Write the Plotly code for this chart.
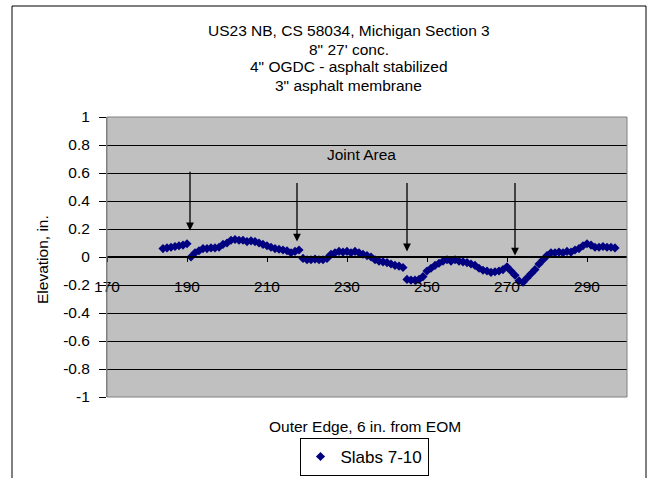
import plotly.graph_objects as go

# ---- data ----
station = list(range(184, 298))
elevation = [
    0.06, 0.065, 0.07, 0.075, 0.08, 0.085, 0.095,            # 184-190
    0.0, 0.03, 0.045, 0.06, 0.06, 0.065, 0.065, 0.07,         # 191-198
    0.09, 0.10, 0.12, 0.125, 0.12, 0.12, 0.11, 0.115, 0.11,   # 199-207
    0.10, 0.09, 0.08, 0.07, 0.06, 0.055, 0.05, 0.045, 0.03,   # 208-216
    0.04, 0.05,                                               # 217-218
    -0.01, -0.02, -0.02, -0.015, -0.02, -0.02, -0.01,         # 219-225
    0.02, 0.03, 0.04, 0.035, 0.04, 0.03, 0.04, 0.03, 0.02,    # 226-234
    0.01, 0.0, -0.02, -0.03, -0.035, -0.04, -0.05, -0.06,     # 235-242
    -0.065, -0.075,                                           # 243-244
    -0.16, -0.165, -0.165, -0.16, -0.14,                      # 245-249
    -0.10, -0.08, -0.06, -0.045, -0.03, -0.02, -0.03, -0.02,  # 250-257
    -0.03, -0.035, -0.04, -0.05, -0.06,                       # 258-262
    -0.08, -0.095, -0.10, -0.11, -0.105, -0.10, -0.09,        # 263-269
    -0.07, -0.10, -0.13, -0.17, -0.18, -0.15, -0.12,          # 270-276
    -0.09, -0.05, -0.02, 0.01,                                # 277-280
    0.03, 0.03, 0.035, 0.03, 0.04, 0.035,                     # 281-286
    0.05, 0.06, 0.08, 0.095,                                  # 287-290
    0.085, 0.07, 0.07, 0.075, 0.07, 0.07, 0.065,              # 291-297
]
series_name = "Slabs 7-10"

x_ticks = [170, 190, 210, 230, 250, 270, 290]
x_tick_labels = ["170", "190", "210", "230", "250", "270", "290"]
y_ticks = [1, 0.8, 0.6, 0.4, 0.2, 0, -0.2, -0.4, -0.6, -0.8, -1]
y_tick_labels = ["1", "0.8", "0.6", "0.4", "0.2", "0", "-0.2", "-0.4", "-0.6", "-0.8", "-1"]

joint_x = [190.75, 217.5, 245, 272]
arrow_top = [0.62, 0.54, 0.54, 0.54]
arrow_tip = [0.19, 0.11, 0.04, 0.01]

title_lines = [
    "US23 NB, CS 58034, Michigan Section 3",
    "8\" 27' conc.",
    "4\" OGDC - asphalt stabilized",
    "3\" asphalt membrane",
]
x_title = "Outer Edge, 6 in. from EOM"
y_title = "Elevation, in."
joint_label = "Joint Area"

# ---- layout geometry ----
W, H = 658, 478
FONT = "Liberation Sans, Arial, sans-serif"
FS = 15.5
px_l, px_r, px_t, px_b = 107, 627, 117, 397
xdom = [px_l / W, px_r / W]
ydom = [(H - px_b) / H, (H - px_t) / H]

fig = go.Figure()
fig.add_trace(go.Scatter(
    x=station, y=elevation, mode="markers", name=series_name,
    marker=dict(symbol="diamond", size=7, color="#000080",
                line=dict(width=0, color="#000080")),
))

for xj, yt, yb in zip(joint_x, arrow_top, arrow_tip):
    fig.add_annotation(
        x=xj, y=yb, ax=xj, ay=yt, xref="x", yref="y", axref="x", ayref="y",
        text="", showarrow=True, arrowhead=2, arrowsize=1.2, arrowwidth=1.3,
        arrowcolor="black",
    )

fig.add_annotation(x=233.5, y=0.73, xref="x", yref="y", text=joint_label,
                   showarrow=False, font=dict(family=FONT, size=FS, color="black"))

title_y = [31, 49, 67, 85]
for line, ty in zip(title_lines, title_y):
    fig.add_annotation(x=349 / W, y=(H - ty) / H, xref="paper", yref="paper",
                       text=line, showarrow=False,
                       xanchor="center", yanchor="middle",
                       font=dict(family=FONT, size=FS, color="black"))

fig.add_annotation(x=365 / W, y=(H - 426) / H, xref="paper", yref="paper",
                   text=x_title, showarrow=False, xanchor="center", yanchor="middle",
                   font=dict(family=FONT, size=FS, color="black"))

fig.add_annotation(x=42 / W, y=(H - 260) / H, xref="paper", yref="paper",
                   text=y_title, showarrow=False, textangle=-90,
                   xanchor="center", yanchor="middle",
                   font=dict(family=FONT, size=FS, color="black"))

# plot-area border
fig.add_shape(type="rect", xref="x domain", yref="y domain", x0=0, x1=1, y0=0, y1=1,
              line=dict(color="#808080", width=1), layer="above")
# chart border
fig.add_shape(type="rect", xref="paper", yref="paper",
              x0=12 / W, x1=646 / W, y0=-0.05, y1=(H - 6) / H,
              line=dict(color="black", width=1))

fig.update_layout(
    width=W, height=H, autosize=False,
    margin=dict(l=0, r=0, t=0, b=0, pad=0),
    paper_bgcolor="white", plot_bgcolor="#C0C0C0",
    font=dict(family=FONT, size=FS, color="black"),
    showlegend=True,
    legend=dict(x=364 / W, y=(H - 476) / H, xanchor="center", yanchor="bottom",
                bordercolor="black", borderwidth=1, bgcolor="white",
                font=dict(family=FONT, size=17, color="black"),
                itemwidth=30, tracegroupgap=0),
    xaxis=dict(domain=xdom, range=[170, 300], automargin=False,
               tickvals=x_ticks, ticktext=x_tick_labels,
               showgrid=False, zeroline=False,
               showline=True, linecolor="black", linewidth=1.5,
               ticks="outside", ticklen=4, tickcolor="black",
               ticklabelstandoff=12,
               tickfont=dict(family=FONT, size=FS, color="black")),
    yaxis=dict(domain=ydom, range=[-1, 1], anchor="x", automargin=False,
               tickvals=y_ticks, ticktext=y_tick_labels,
               showgrid=True, gridcolor="black", gridwidth=1,
               zeroline=False, showline=True, linecolor="#808080",
               ticks="outside", ticklen=7, tickcolor="black",
               ticklabelstandoff=6,
               tickfont=dict(family=FONT, size=FS, color="black")),
)
fig.update_xaxes(position=(ydom[0] + ydom[1]) / 2, anchor="free")

fig.write_html("out.html")
